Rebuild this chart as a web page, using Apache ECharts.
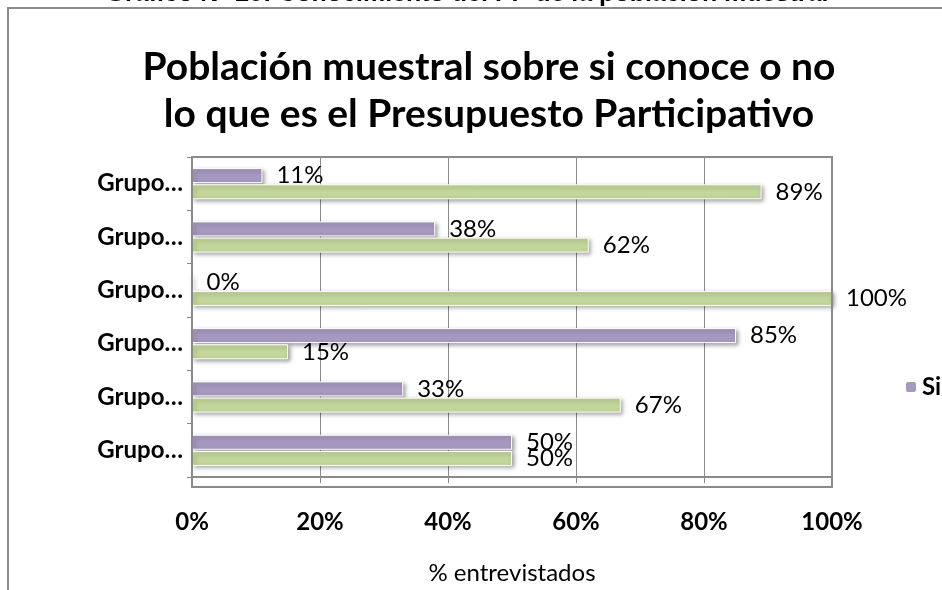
<!DOCTYPE html>
<html>
<head>
<meta charset="utf-8">
<script src="https://cdn.jsdelivr.net/npm/echarts@6/dist/echarts.min.js"></script>
<style>
  html, body { margin: 0; padding: 0; background: #fff; }
  #main { width: 942px; height: 590px; }
</style>
</head>
<body>
<div id="main"></div>
<script>
// datos (de abajo hacia arriba, como los ordena el eje de categorías)
var grupos = ['Grupo…', 'Grupo…', 'Grupo…', 'Grupo…', 'Grupo…', 'Grupo…'];
var si = [50, 33, 85, 0, 38, 11];
var no = [50, 67, 15, 100, 62, 89];
var ticksX = [0, 20, 40, 60, 80, 100];

var fuente = 'Lato, "Open Sans", sans-serif';
var myChart = echarts.init(document.getElementById('main'));

var etiqueta = {
  show: true,
  position: 'right',
  distance: 14,
  formatter: '{c}%',
  color: '#000',
  fontFamily: fuente,
  fontSize: 24
};

var option = {
  backgroundColor: '#fff',
  animation: false,
  graphic: [
    { // marco exterior del gráfico
      type: 'rect',
      shape: { x: 8, y: 8, width: 960, height: 620 },
      style: { fill: 'none', stroke: '#8a8a8a', lineWidth: 2 }
    },
    { // leyenda del documento, cortada arriba
      type: 'text',
      x: 467, y: -18,
      style: {
        text: 'Gráfico N° 20: Conocimiento del PP de la población muestral',
        font: 'bold 25px "Liberation Sans", Arial, sans-serif',
        fill: '#000', align: 'center', verticalAlign: 'top'
      }
    },
    { // borde del área de trazado
      type: 'rect',
      shape: { x: 192, y: 157, width: 640, height: 330 },
      style: { fill: 'none', stroke: '#8a8a8a', lineWidth: 2 },
      z: 10
    }
  ],
  title: {
    text: 'Población muestral sobre si conoce o no\nlo que es el Presupuesto Participativo',
    left: 484,
    textAlign: 'center',
    top: 39,
    textStyle: {
      fontFamily: fuente,
      fontWeight: 'bold',
      fontSize: 39,
      lineHeight: 47,
      color: '#000'
    }
  },
  legend: {
    data: ['Si'],
    left: 899,
    top: 370,
    itemWidth: 12,
    itemHeight: 12,
    itemGap: 8,
    textStyle: { fontFamily: fuente, fontWeight: 'bold', fontSize: 24, color: '#000' }
  },
  grid: { left: 192, right: 110, top: 157, bottom: 103 },
  xAxis: {
    type: 'value',
    min: 0,
    max: 100,
    interval: 20,
    name: '% entrevistados',
    nameLocation: 'middle',
    nameGap: 84,
    nameTextStyle: { fontFamily: fuente, fontSize: 24, color: '#000' },
    axisLine: { show: true, lineStyle: { color: '#8a8a8a', width: 2 } },
    axisTick: { show: true, length: 6, lineStyle: { color: '#8a8a8a' } },
    axisLabel: {
      margin: 33,
      fontFamily: fuente, fontWeight: 'bold', fontSize: 24, color: '#000',
      formatter: function (v) { return ticksX.indexOf(v) >= 0 ? v + '%' : ''; }
    },
    splitLine: { show: true, lineStyle: { color: '#8a8a8a', width: 1 } }
  },
  yAxis: {
    type: 'category',
    data: grupos,
    axisLine: { show: true, lineStyle: { color: '#8a8a8a', width: 2 } },
    axisTick: { show: true, length: 5, lineStyle: { color: '#8a8a8a' } },
    axisLabel: { margin: 9, fontFamily: fuente, fontWeight: 'bold', fontSize: 24, color: '#000' }
  },
  series: [
    {
      name: 'Si',
      type: 'bar',
      data: si,
      barWidth: 15,
      barGap: '8%',
      itemStyle: {
        color: '#A798C0', borderColor: '#fff', borderWidth: 1,
        shadowColor: 'rgba(0,0,0,0.35)', shadowBlur: 4, shadowOffsetX: 2, shadowOffsetY: 2
      },
      label: etiqueta
    },
    {
      name: 'No',
      type: 'bar',
      data: no,
      barWidth: 15,
      barGap: '8%',
      itemStyle: {
        color: '#C3D69B', borderColor: '#fff', borderWidth: 1,
        shadowColor: 'rgba(0,0,0,0.35)', shadowBlur: 4, shadowOffsetX: 2, shadowOffsetY: 2
      },
      label: etiqueta
    }
  ]
};

myChart.setOption(option);
</script>
</body>
</html>
